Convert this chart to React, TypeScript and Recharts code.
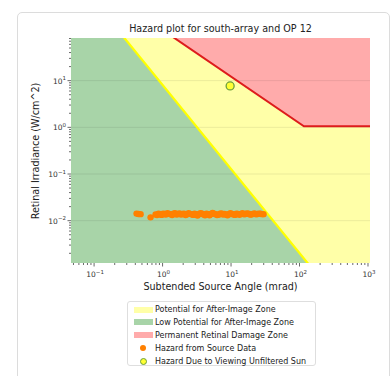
import React from "react";
import {
  ComposedChart,
  Area,
  Line,
  Scatter,
  XAxis,
  YAxis,
  ReferenceLine,
} from "recharts";

// zone boundaries (log-log)
const redFill = [
  { x: 0.03, y: 5000 },
  { x: 2000, y: 5000 },
];
const damageLine = [
  { x: 0.03, y: 4000 },
  { x: 1, y: 122 },
  { x: 116, y: 1.05 },
  { x: 2000, y: 1.05 },
];
const afterImageLine = [
  { x: 0.03, y: 4400 },
  { x: 0.16, y: 220 },
  { x: 200, y: 0.00058 },
];

const sourceX = [
  0.417, 0.445, 0.478, 0.668, 0.791, 0.83, 0.875, 0.92, 0.967, 1.02, 1.07,
  1.12, 1.18, 1.24, 1.31, 1.38, 1.45, 1.52, 1.6, 1.68, 1.77, 1.86, 1.96, 2.06,
  2.17, 2.28, 2.4, 2.52, 2.65, 2.79, 2.93, 3.08, 3.24, 3.41, 3.59, 3.77, 3.97,
  4.17, 4.39, 4.61, 4.85, 5.1, 5.37, 5.65, 5.94, 6.25, 6.57, 6.9, 7.26, 7.64,
  8.04, 8.45, 8.89, 9.35, 9.84, 10.3, 10.9, 11.4, 12.0, 12.6, 13.3, 14.0, 14.7,
  15.5, 16.3, 17.1, 18.0, 18.9, 19.9, 20.9, 22.0, 23.2, 24.4, 25.6, 27.0, 28.4,
  29.8,
];
const sourceY = [
  0.0142, 0.0139, 0.0138, 0.0118, 0.0136, 0.0132, 0.0141, 0.0137, 0.0133,
  0.0142, 0.0139, 0.0135, 0.0144, 0.014, 0.0137, 0.0132, 0.0141, 0.0145,
  0.0135, 0.0139, 0.0143, 0.0136, 0.0139, 0.0142, 0.0132, 0.0137, 0.0145,
  0.014, 0.0138, 0.0133, 0.0141, 0.0136, 0.0129, 0.0139, 0.0144, 0.0141,
  0.0136, 0.013, 0.0142, 0.0138, 0.0131, 0.0139, 0.0146, 0.0141, 0.0138,
  0.0132, 0.0134, 0.0141, 0.0143, 0.0136, 0.0139, 0.0135, 0.0131, 0.014,
  0.0145, 0.0138, 0.0137, 0.0133, 0.0142, 0.0139, 0.0134, 0.014, 0.0144,
  0.0137, 0.0139, 0.0143, 0.0141, 0.0136, 0.0136, 0.014, 0.0143, 0.0137,
  0.0139, 0.0142, 0.0141, 0.0138, 0.0138,
];
const sourcePoints = sourceX.map((x, i) => ({ x, y: sourceY[i] }));
const sunPoint = [{ x: 9.7, y: 7.7 }];

const xMajor = [0.1, 1, 10, 100, 1000];
const xMinor = [
  0.05, 0.06, 0.07, 0.08, 0.09, 0.2, 0.3, 0.4, 0.5, 0.6, 0.7, 0.8, 0.9, 2, 3,
  4, 5, 6, 7, 8, 9, 20, 30, 40, 50, 60, 70, 80, 90, 200, 300, 400, 500, 600,
  700, 800, 900,
];
const yMajor = [0.01, 0.1, 1, 10];
const yMinor = [
  0.002, 0.003, 0.004, 0.005, 0.006, 0.007, 0.008, 0.009, 0.02, 0.03, 0.04,
  0.05, 0.06, 0.07, 0.08, 0.09, 0.2, 0.3, 0.4, 0.5, 0.6, 0.7, 0.8, 0.9, 2, 3,
  4, 5, 6, 7, 8, 9, 20, 30, 40, 50, 60, 70, 80,
];

const legendItems = [
  { label: "Potential for After-Image Zone", kind: "patch", color: "#ffffa8" },
  { label: "Low Potential for After-Image Zone", kind: "patch", color: "#a8d4a8" },
  { label: "Permanent Retinal Damage Zone", kind: "patch", color: "#ffabab" },
  { label: "Hazard from Source Data", kind: "dot", color: "#ff8000" },
  { label: "Hazard Due to Viewing Unfiltered Sun", kind: "sun", color: "#ffff33" },
];

const FONT = "'DejaVu Sans', sans-serif";

const exponent = (v: number) => {
  const e = Math.round(Math.log10(v));
  return e < 0 ? "\u2212" + Math.abs(e) : String(e);
};
const isMajor = (v: number) =>
  Math.abs(Math.log10(v) - Math.round(Math.log10(v))) < 1e-6;

const XTick = (props: any) => {
  const { x, y, payload } = props;
  const v = payload.value;
  const major = isMajor(v);
  return (
    <g>
      <line x1={x} x2={x} y1={y} y2={y + (major ? 3.5 : 2)} stroke="#444" strokeWidth={0.8} />
      {major && (
        <text x={x + 1} y={y + 14} textAnchor="middle" fontSize={7.5} fill="#333" fontFamily={FONT}>
          10
          <tspan dy={-3.5} fontSize={5.5}>
            {exponent(v)}
          </tspan>
        </text>
      )}
    </g>
  );
};

const YTick = (props: any) => {
  const { x, y, payload } = props;
  const v = payload.value;
  const major = isMajor(v);
  return (
    <g>
      <line x1={x} x2={x - (major ? 3.5 : 2)} y1={y} y2={y} stroke="#444" strokeWidth={0.8} />
      {major && (
        <text x={x - 5} y={y + 3} textAnchor="end" fontSize={7.5} fill="#333" fontFamily={FONT}>
          10
          <tspan dy={-3.5} fontSize={5.5}>
            {exponent(v)}
          </tspan>
        </text>
      )}
    </g>
  );
};

export default function App() {
  return (
    <div style={{ position: "absolute", left: 0, top: 0, width: 391, height: 376, overflow: "hidden", background: "#fff", fontFamily: FONT }}>
      {/* card frame */}
      <div
        style={{
          position: "absolute",
          left: 17,
          top: 12,
          width: 371,
          height: 420,
          border: "1px solid #dcdcdc",
          borderRadius: 5,
        }}
      />
      <div
        style={{
          position: "absolute",
          left: 71,
          width: 299,
          top: 23,
          textAlign: "center",
          fontSize: 9.6,
          color: "#222",
        }}
      >
        Hazard plot for south-array and OP 12
      </div>
      <div
        style={{
          position: "absolute",
          left: 35,
          top: 151,
          transform: "translate(-50%, -50%) rotate(-90deg)",
          whiteSpace: "nowrap",
          fontSize: 9.6,
          color: "#222",
        }}
      >
        Retinal Irradiance (W/cm^2)
      </div>
      <div
        style={{
          position: "absolute",
          left: 71,
          width: 299,
          top: 281,
          textAlign: "center",
          fontSize: 9.6,
          color: "#222",
        }}
      >
        Subtended Source Angle (mrad)
      </div>

      <div style={{ position: "absolute", left: 0, top: 0 }}>
        <ComposedChart
          width={391}
          height={300}
          margin={{ top: 38, right: 21, bottom: 12, left: 21 }}
        >
          <XAxis
            type="number"
            dataKey="x"
            scale="log"
            domain={[0.046, 1070]}
            allowDataOverflow
            ticks={[...xMajor, ...xMinor]}
            interval={0}
            tick={<XTick />}
            tickLine={false}
            axisLine={false}
            tickSize={0}
            tickMargin={0}
            height={25}
          />
          <YAxis
            type="number"
            dataKey="y"
            scale="log"
            domain={[0.00124, 82]}
            allowDataOverflow
            ticks={[...yMajor, ...yMinor]}
            interval={0}
            tick={<YTick />}
            tickLine={false}
            axisLine={false}
            tickSize={0}
            tickMargin={0}
            width={50}
          />
          <Area
            data={redFill}
            dataKey="y"
            type="linear"
            fill="#ffabab"
            fillOpacity={1}
            stroke="none"
            isAnimationActive={false}
          />
          <Area
            data={damageLine}
            dataKey="y"
            type="linear"
            fill="#ffffa8"
            fillOpacity={1}
            stroke="none"
            isAnimationActive={false}
          />
          <Area
            data={afterImageLine}
            dataKey="y"
            type="linear"
            fill="#a8d4a8"
            fillOpacity={1}
            stroke="none"
            isAnimationActive={false}
          />
          {yMajor.map((v) => (
            <ReferenceLine key={v} y={v} stroke="rgba(0,0,0,0.08)" strokeWidth={1} />
          ))}
          <Line
            data={damageLine}
            dataKey="y"
            type="linear"
            stroke="#dd1c1c"
            strokeWidth={2}
            dot={false}
            isAnimationActive={false}
          />
          <Line
            data={afterImageLine}
            dataKey="y"
            type="linear"
            stroke="#ffff00"
            strokeWidth={2.2}
            dot={false}
            isAnimationActive={false}
          />
          <Scatter
            data={sourcePoints}
            dataKey="y"
            isAnimationActive={false}
            shape={(p: any) => <circle cx={p.cx} cy={p.cy} r={3.2} fill="#ff8000" />}
          />
          <Scatter
            data={sunPoint}
            dataKey="y"
            isAnimationActive={false}
            shape={(p: any) => (
              <circle cx={p.cx} cy={p.cy} r={4} fill="#ffff33" stroke="#6b9e3c" strokeWidth={1.3} />
            )}
          />
        </ComposedChart>
      </div>

      {/* legend */}
      <div
        style={{
          position: "absolute",
          left: 127,
          top: 301,
          width: 189,
          height: 65,
          border: "1px solid #dedede",
          borderRadius: 3,
          background: "#fff",
          boxSizing: "border-box",
        }}
      >
        {legendItems.map((it, i) => (
          <div
            key={it.label}
            style={{
              position: "absolute",
              left: 0,
              top: 1.5 + i * 12.9,
              height: 12,
              display: "flex",
              alignItems: "center",
              whiteSpace: "nowrap",
              fontSize: 8,
              color: "#222",
            }}
          >
            <div style={{ width: 27, display: "flex", justifyContent: "center", alignItems: "center" }}>
              {it.kind === "patch" && (
                <div style={{ width: 19, height: 6, marginLeft: 3, background: it.color }} />
              )}
              {it.kind === "dot" && (
                <div style={{ width: 6, height: 6, marginLeft: 3, borderRadius: 3, background: it.color }} />
              )}
              {it.kind === "sun" && (
                <div
                  style={{
                    width: 5,
                    height: 5,
                    marginLeft: 3,
                    borderRadius: 4,
                    background: it.color,
                    border: "1.3px solid #6b9e3c",
                  }}
                />
              )}
            </div>
            <span>{it.label}</span>
          </div>
        ))}
      </div>
    </div>
  );
}
